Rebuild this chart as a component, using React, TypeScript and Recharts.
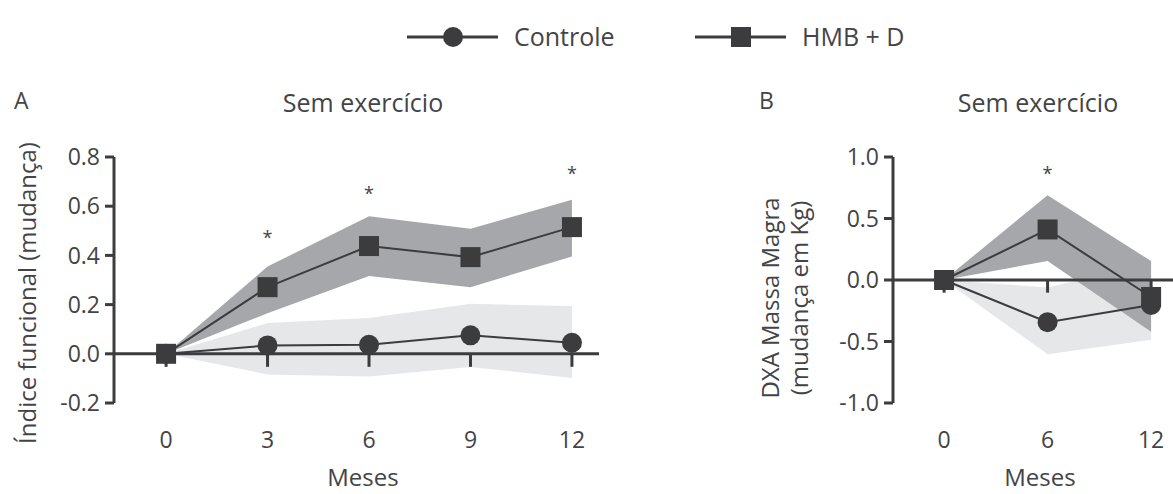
import React from 'react';
import {
  ComposedChart,
  Area,
  Line,
  Scatter,
  XAxis,
  YAxis,
  ReferenceLine,
} from 'recharts';

const INK = '#3c3c3e';
const TEXT = '#444446';
const BAND_HMB = '#a6a7aa';
const BAND_CTRL = '#e6e7e8';
const FONT = '"Open Sans", sans-serif';

// Painel A - indice funcional
const mesesA = [0, 3, 6, 9, 12];
const controleA = [0, 0.034, 0.037, 0.075, 0.045];
const controleBaixoA = [0, -0.084, -0.092, -0.054, -0.098];
const controleAltoA = [0, 0.125, 0.146, 0.203, 0.194];
const hmbA = [0, 0.271, 0.438, 0.393, 0.515];
const hmbBaixoA = [0, 0.165, 0.316, 0.271, 0.396];
const hmbAltoA = [0, 0.355, 0.559, 0.508, 0.626];
const estrelasMesesA = [3, 6, 12];
const estrelasAlturaA = [0.485, 0.667, 0.748];
const yTicksA = [-0.2, 0, 0.2, 0.4, 0.6, 0.8];

// Painel B - DXA massa magra
const mesesB = [0, 6, 12];
const controleB = [0, -0.343, -0.203];
const controleBaixoB = [0, -0.603, -0.486];
const controleAltoB = [0, -0.06, 0.135];
const hmbB = [0, 0.411, -0.138];
const hmbBaixoB = [0, 0.154, -0.42];
const hmbAltoB = [0, 0.69, 0.154];
const estrelasMesesB = [6];
const estrelasAlturaB = [0.897];
const yTicksB = [-1, -0.5, 0, 0.5, 1];

const legendItems = [
  { name: 'Controle', shape: 'circle' },
  { name: 'HMB + D', shape: 'square' },
];

const buildRows = (
  meses: number[],
  ctrl: number[],
  ctrlLo: number[],
  ctrlHi: number[],
  hmb: number[],
  hmbLo: number[],
  hmbHi: number[]
) =>
  meses.map((m, i) => ({
    m,
    controle: ctrl[i],
    hmb: hmb[i],
    bandaControle: [ctrlLo[i], ctrlHi[i]],
    bandaHmb: [hmbLo[i], hmbHi[i]],
  }));

const rowsA = buildRows(mesesA, controleA, controleBaixoA, controleAltoA, hmbA, hmbBaixoA, hmbAltoA);
const rowsB = buildRows(mesesB, controleB, controleBaixoB, controleAltoB, hmbB, hmbBaixoB, hmbAltoB);
const starsA = estrelasMesesA.map((m, i) => ({ m, y: estrelasAlturaA[i] }));
const starsB = estrelasMesesB.map((m, i) => ({ m, y: estrelasAlturaB[i] }));

const CircleDot = (props: any) => (
  <circle key={props.key} cx={props.cx} cy={props.cy} r={10} fill={INK} />
);
const SquareDot = (props: any) => (
  <rect key={props.key} x={props.cx - 10} y={props.cy - 10} width={20} height={20} fill={INK} />
);
const Star = (props: any) => (
  <text x={props.cx} y={props.cy + 10} textAnchor="middle" fontSize={18} fill={TEXT} fontFamily={FONT}>
    *
  </text>
);

type PanelProps = {
  rows: any[];
  stars: any[];
  left: number;
  width: number;
  yAxisWidth: number;
  rightMargin: number;
  xDomain: number[];
  xTicks: number[];
  yDomain: number[];
  yTicks: number[];
  tickDrop: number;
};

const tickStyle = { fontSize: 23, fill: TEXT, fontFamily: FONT };

const Panel = ({ rows, stars, left, width, yAxisWidth, rightMargin, xDomain, xTicks, yDomain, yTicks, tickDrop }: PanelProps) => (
  <div style={{ position: 'absolute', left, top: 0 }}>
    <ComposedChart width={width} height={494} data={rows} margin={{ top: 157, right: rightMargin, bottom: 0, left: 0 }}>
      <XAxis
        dataKey="m"
        type="number"
        domain={xDomain}
        ticks={xTicks}
        interval={0}
        allowDataOverflow
        axisLine={false}
        tickLine={false}
        tickSize={0}
        tickMargin={29}
        height={91}
        tick={tickStyle}
      />
      <YAxis
        type="number"
        domain={yDomain}
        ticks={yTicks}
        interval={0}
        allowDataOverflow
        width={yAxisWidth}
        tickFormatter={(v: number) => v.toFixed(1)}
        axisLine={{ stroke: INK, strokeWidth: 3 }}
        tickLine={{ stroke: INK, strokeWidth: 3 }}
        tickSize={9}
        tickMargin={5}
        tick={tickStyle}
      />
      <Area dataKey="bandaControle" type="linear" stroke="none" fill={BAND_CTRL} fillOpacity={1} isAnimationActive={false} />
      <Area dataKey="bandaHmb" type="linear" stroke="none" fill={BAND_HMB} fillOpacity={1} isAnimationActive={false} />
      <ReferenceLine y={0} stroke={INK} strokeWidth={3} />
      {xTicks.map((m) => (
        <ReferenceLine key={m} segment={[{ x: m, y: 0 }, { x: m, y: -tickDrop }]} stroke={INK} strokeWidth={3} />
      ))}
      <Line dataKey="controle" type="linear" stroke={INK} strokeWidth={2} dot={CircleDot} activeDot={false} isAnimationActive={false} />
      <Line dataKey="hmb" type="linear" stroke={INK} strokeWidth={2} dot={SquareDot} activeDot={false} isAnimationActive={false} />
      <Scatter data={stars} dataKey="y" shape={Star} isAnimationActive={false} />
    </ComposedChart>
  </div>
);

const Labels = () => (
  <svg
    width={1173}
    height={494}
    style={{ position: 'absolute', left: 0, top: 0, pointerEvents: 'none' }}
    fontFamily={FONT}
    fill={TEXT}
  >
    {/* legend */}
    {legendItems.map((item, i) => {
      const x0 = i === 0 ? 407 : 695;
      const cx = x0 + 46;
      return (
        <g key={item.name}>
          <line x1={x0} x2={x0 + 91} y1={37} y2={37} stroke={INK} strokeWidth={3} />
          {item.shape === 'circle' ? (
            <circle cx={cx} cy={37} r={10} fill={INK} />
          ) : (
            <rect x={cx - 10} y={27} width={20} height={20} fill={INK} />
          )}
          <text x={x0 + 107} y={46} fontSize={25}>
            {item.name}
          </text>
        </g>
      );
    })}

    <text x={14} y={109} fontSize={23}>A</text>
    <text x={363} y={112} fontSize={25} textAnchor="middle">Sem exercício</text>
    <text x={759} y={109} fontSize={23}>B</text>
    <text x={1038} y={112} fontSize={25} textAnchor="middle">Sem exercício</text>

    <text transform="translate(36,293) rotate(-90)" fontSize={24} textAnchor="middle">
      Índice funcional (mudança)
    </text>
    <text transform="translate(779,298) rotate(-90)" fontSize={24} textAnchor="middle">
      DXA Massa Magra
    </text>
    <text transform="translate(808,298) rotate(-90)" fontSize={24} textAnchor="middle">
      (mudança em Kg)
    </text>

    <text x={363} y={486} fontSize={24} textAnchor="middle">Meses</text>
    <text x={1040} y={486} fontSize={24} textAnchor="middle">Meses</text>
  </svg>
);

export default function App() {
  return (
    <div
      style={{
        position: 'absolute',
        left: 0,
        top: 0,
        width: 1173,
        height: 494,
        background: '#fff',
        fontFamily: FONT,
        overflow: 'hidden',
      }}
    >
      <Panel
        rows={rowsA}
        stars={starsA}
        left={0}
        width={610}
        yAxisWidth={114}
        rightMargin={11}
        xDomain={[-1.54, 12.8]}
        xTicks={mesesA}
        yDomain={[-0.2, 0.8]}
        yTicks={yTicksA}
        tickDrop={0.053}
      />
      <Panel
        rows={rowsB}
        stars={starsB}
        left={740}
        width={433}
        yAxisWidth={153}
        rightMargin={0}
        xDomain={[-2.96, 13.27]}
        xTicks={mesesB}
        yDomain={[-1, 1]}
        yTicks={yTicksB}
        tickDrop={0.103}
      />
      <Labels />
    </div>
  );
}
